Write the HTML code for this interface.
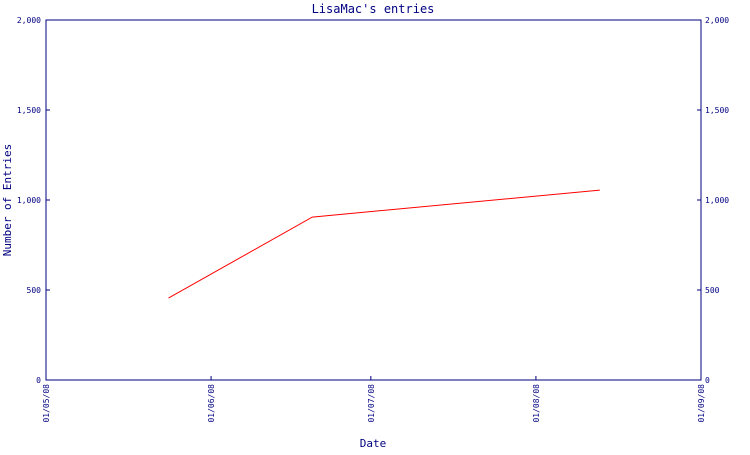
<!DOCTYPE html>
<html><head><meta charset="utf-8"><style>
body{margin:0;background:#fff}
svg text{font-family:"DejaVu Sans Mono","Liberation Mono",monospace;fill:#000080}
</style></head><body>
<svg id="chart" width="750" height="450" xmlns="http://www.w3.org/2000/svg">
<rect width="750" height="450" fill="#fff"/>
<text x="373" y="13" text-anchor="middle" font-size="12">LisaMac's entries</text>
<text transform="translate(11,200) rotate(-90)" text-anchor="middle" font-size="11">Number of Entries</text>
<text x="373" y="447" text-anchor="middle" font-size="11">Date</text>
<rect x="46" y="20" width="655" height="360" fill="none" stroke="#000080" stroke-width="1"/>
<g id="axes"></g>
<g id="series"></g>
</svg>
<script>
const yTicks=[0,500,1000,1500,2000];
const yTickLabels=["0","500","1,000","1,500","2,000"];
const xTickDates=["2008-05-01","2008-06-01","2008-07-01","2008-08-01","2008-09-01"];
const xTickLabels=["01/05/08","01/06/08","01/07/08","01/08/08","01/09/08"];
const pointDates=["2008-05-24","2008-06-20","2008-08-13"];
const pointValues=[455,905,1055];
const L=46,R=701,T=20,B=380,NS="http://www.w3.org/2000/svg";
const t0=Date.parse("2008-05-01"),t1=Date.parse("2008-09-01");
function xS(d){return L+(Date.parse(d)-t0)/(t1-t0)*(R-L);}
function yS(v){return B-v/2000*(B-T);}
function mk(tag,attrs,parent){const e=document.createElementNS(NS,tag);for(const k in attrs)e.setAttribute(k,attrs[k]);parent.appendChild(e);return e;}
const ax=document.getElementById('axes');
yTicks.forEach((v,i)=>{
 const y=yS(v);
 const l1=mk('line',{x1:L,x2:L+4,y1:y,y2:y,stroke:'#000080'},ax);
 
 
 const l2=mk('line',{x1:R-4,x2:R,y1:y,y2:y,stroke:'#000080'},ax);
 
 
 const a=mk('text',{x:L-5,y:y+3,'text-anchor':'end','font-size':'8'},ax);a.textContent=yTickLabels[i];
 
 
 const b=mk('text',{x:R+4,y:y+3,'font-size':'8'},ax);b.textContent=yTickLabels[i];
 
 
});
xTickDates.forEach((d,i)=>{
 const x=xS(d);
 const l=mk('line',{x1:x,x2:x,y1:B-4,y2:B,stroke:'#000080'},ax);
 
 
 const t=mk('text',{transform:`translate(${x+3},384) rotate(-90)`,'text-anchor':'end','font-size':'8'},ax);t.textContent=xTickLabels[i];
 
 
});
const pts=pointDates.map((d,i)=>xS(d)+','+yS(pointValues[i])).join(' ');
const pl=mk('polyline',{points:pts,fill:'none',stroke:'#ff0000','stroke-width':1},document.getElementById('series'));


</script>
</body></html>
